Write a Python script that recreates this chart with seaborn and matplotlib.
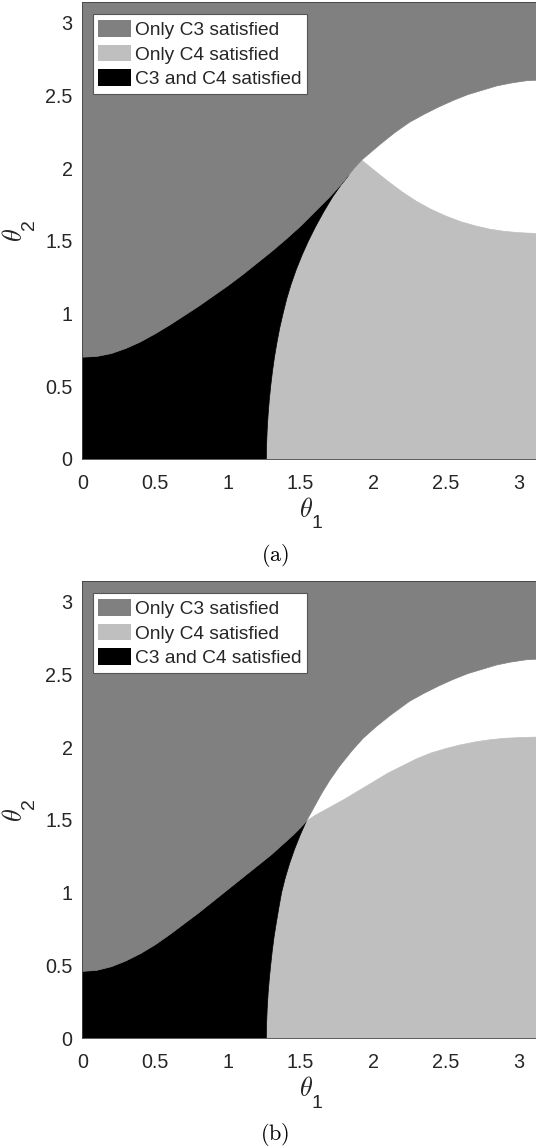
import numpy as np
import matplotlib
matplotlib.use("Agg")
import matplotlib.pyplot as plt
import seaborn as sns
from matplotlib.patches import Patch

PI = np.pi

# ---------------- data ----------------
tick_values = [0, 0.5, 1, 1.5, 2, 2.5, 3]
tick_labels = ["0", "0.5", "1", "1.5", "2", "2.5", "3"]
region_labels = ["Only C3 satisfied", "Only C4 satisfied", "C3 and C4 satisfied"]
region_colors = ["#808080", "#bfbfbf", "#000000"]
panel_captions = ["(a)", "(b)"]

# panel (a): lower edge of the "Only C3" region
a_upper_x = [0.0, 0.1, 0.2, 0.3, 0.4, 0.5, 0.6, 0.7, 0.8, 0.9, 1.0, 1.1, 1.2, 1.3, 1.4,
             1.5, 1.6, 1.7, 1.8, 1.83, 1.87, 1.92, 1.95, 2.05, 2.15, 2.25, 2.35, 2.45,
             2.55, 2.65, 2.75, 2.85, 2.95, 3.05, PI]
a_upper_y = [0.70, 0.705, 0.725, 0.76, 0.805, 0.86, 0.92, 0.985, 1.05, 1.12, 1.19, 1.265,
             1.345, 1.425, 1.51, 1.60, 1.70, 1.80, 1.91, 1.95, 2.0, 2.055, 2.08, 2.165,
             2.245, 2.315, 2.37, 2.42, 2.465, 2.505, 2.535, 2.565, 2.585, 2.60, 2.605]
# panel (a): boundary between "C3 and C4" and "Only C4"
a_split_x = [1.265, 1.267, 1.271, 1.277, 1.285, 1.295, 1.307, 1.321, 1.338, 1.357, 1.38,
             1.405, 1.435, 1.47, 1.51, 1.555, 1.605, 1.66, 1.72, 1.79, 1.83]
a_split_y = [0.0, 0.1, 0.2, 0.3, 0.4, 0.5, 0.6, 0.7, 0.8, 0.9, 1.0,
             1.1, 1.2, 1.3, 1.4, 1.5, 1.6, 1.7, 1.8, 1.9, 1.95]
# panel (a): upper edge of the right part of "Only C4"
a_lower_x = [1.92, 2.0, 2.1, 2.2, 2.3, 2.4, 2.5, 2.6, 2.7, 2.8, 2.9, 3.0, 3.1, PI]
a_lower_y = [2.055, 1.99, 1.91, 1.835, 1.77, 1.715, 1.67, 1.632, 1.603, 1.58, 1.565,
             1.556, 1.551, 1.55]

# panel (b)
b_upper_x = [0.0, 0.1, 0.2, 0.3, 0.4, 0.5, 0.6, 0.7, 0.8, 0.9, 1.0, 1.1, 1.2, 1.3, 1.4,
             1.45, 1.5, 1.54, 1.59, 1.645, 1.70, 1.77, 1.85, 1.93, 2.02, 2.12, 2.25,
             2.35, 2.45, 2.55, 2.65, 2.75, 2.85, 2.95, 3.05, PI]
b_upper_y = [0.458, 0.465, 0.49, 0.53, 0.58, 0.64, 0.71, 0.785, 0.86, 0.94, 1.02, 1.10,
             1.18, 1.26, 1.35, 1.395, 1.445, 1.49, 1.58, 1.68, 1.77, 1.87, 1.97, 2.06,
             2.14, 2.22, 2.315, 2.37, 2.42, 2.465, 2.505, 2.535, 2.565, 2.585, 2.60, 2.605]
b_split_x = [1.265, 1.267, 1.271, 1.277, 1.285, 1.295, 1.306, 1.319, 1.335, 1.352, 1.37,
             1.395, 1.425, 1.46, 1.50, 1.54]
b_split_y = [0.0, 0.1, 0.2, 0.3, 0.4, 0.5, 0.6, 0.7, 0.8, 0.9, 1.0,
             1.1, 1.2, 1.3, 1.4, 1.49]
b_lower_x = [1.54, 1.6, 1.7, 1.8, 1.9, 2.0, 2.1, 2.2, 2.3, 2.4, 2.5, 2.6, 2.7, 2.8,
             2.9, 3.0, 3.1, PI]
b_lower_y = [1.49, 1.53, 1.585, 1.64, 1.70, 1.76, 1.82, 1.87, 1.92, 1.96, 1.99, 2.015,
             2.035, 2.05, 2.06, 2.065, 2.068, 2.068]

# ---------------- style ----------------
sns.set_theme(style="white")
plt.rcParams["font.family"] = ["Liberation Sans", "DejaVu Sans"]
TXT = "#262626"

W, H = 536, 1148
fig = plt.figure(figsize=(W / 100, H / 100), dpi=100)


def fx(px):
    return px / W


def fy(py):
    return 1 - py / H


def draw_panel(ax, upper_x, upper_y, split_x, split_y, lower_x, lower_y):
    ux = np.asarray(upper_x)
    uy = np.asarray(upper_y)
    s_end = split_x[-1]
    l_start = lower_x[0]
    mid = (ux > s_end) & (ux < l_start)
    left = ux < s_end
    # only C4 (light gray)
    lg_x = list(split_x) + list(ux[mid]) + list(lower_x) + [PI]
    lg_y = list(split_y) + list(uy[mid]) + list(lower_y) + [0.0]
    ax.fill(lg_x, lg_y, facecolor=region_colors[1], edgecolor=region_colors[1], lw=0.5, zorder=1)
    # both (black)
    bk_x = [0.0] + list(split_x) + list(ux[left][::-1])
    bk_y = [0.0] + list(split_y) + list(uy[left][::-1])
    ax.fill(bk_x, bk_y, facecolor=region_colors[2], edgecolor=region_colors[2], lw=0.5, zorder=2)
    # only C3 (dark gray)
    g_x = list(ux) + [PI, 0.0]
    g_y = list(uy) + [PI, PI]
    ax.fill(g_x, g_y, facecolor=region_colors[0], edgecolor=region_colors[0], lw=0.5, zorder=3)

    ax.set_xlim(0, PI)
    ax.set_ylim(0, PI)
    ax.set_xticks(tick_values)
    ax.set_xticklabels(tick_labels)
    ax.set_yticks(tick_values)
    ax.set_yticklabels(tick_labels)
    ax.tick_params(axis="both", length=0, labelsize=14.2, colors=TXT)
    ax.tick_params(axis="x", pad=11.0)
    ax.tick_params(axis="y", pad=6.9)
    for sp in ax.spines.values():
        sp.set_color("#404040")
        sp.set_linewidth(0.6)
        sp.set_zorder(5)
    ax.grid(False)
    handles = [Patch(facecolor=c, edgecolor="none") for c in region_colors]
    leg = ax.legend(handles, region_labels, loc="upper left",
                    bbox_to_anchor=(0.0228, 0.973), borderaxespad=0,
                    fontsize=13.8, frameon=True, fancybox=False, framealpha=1,
                    edgecolor="#555555", handlelength=1.7, handleheight=0.96,
                    handletextpad=0.21, borderpad=0.3, labelspacing=0.3)
    leg.get_frame().set_linewidth(0.8)
    leg.set_zorder(10)


axes_top = [2, 581]
for i, (top, data) in enumerate(zip(axes_top, [
        (a_upper_x, a_upper_y, a_split_x, a_split_y, a_lower_x, a_lower_y),
        (b_upper_x, b_upper_y, b_split_x, b_split_y, b_lower_x, b_lower_y)])):
    bottom = top + 457
    ax = fig.add_axes([fx(82.3), fy(bottom), 457 / W, 457 / H])
    draw_panel(ax, *data)
    # x label theta_1
    fig.text(fx(305.7), fy(bottom + 51), r"$\theta$", math_fontfamily="cm",
             fontsize=19, ha="center", va="center", color=TXT)
    fig.text(fx(316.5), fy(bottom + 65), "1", fontsize=14,
             ha="center", va="center", color=TXT)
    # y label theta_2
    mid_y = top + 228.5
    fig.text(fx(15), fy(mid_y + 5), r"$\theta$", math_fontfamily="cm",
             fontsize=19, ha="center", va="center", rotation=90, color=TXT)
    fig.text(fx(29.5), fy(mid_y - 5.5), "2", fontsize=14,
             ha="center", va="center", rotation=90, color=TXT)
    # caption
    fig.text(fx(275), fy(bottom + 96), r"$\mathrm{" + panel_captions[i] + "}$",
             math_fontfamily="cm", fontsize=16, ha="center", va="center", color="black")

fig.savefig("out.png", dpi=100)
